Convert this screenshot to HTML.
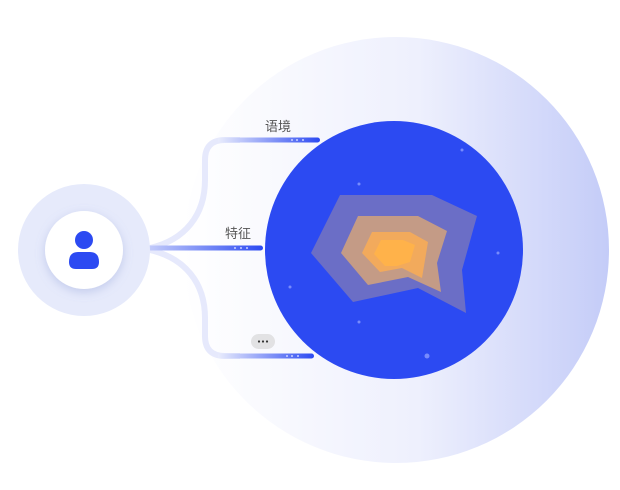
<!DOCTYPE html>
<html><head><meta charset="utf-8"><style>
body{margin:0;width:620px;height:485px;background:#fff;overflow:hidden;font-family:"Liberation Sans","Noto Sans CJK SC",sans-serif}
</style></head><body>
<svg width="620" height="485" viewBox="0 0 620 485">
<defs>
<linearGradient id="bg" x1="0" x2="1" y1="0" y2="0">
<stop offset="0" stop-color="#fff"/><stop offset="0.55" stop-color="#eef0fd"/><stop offset="1" stop-color="#c4ccf8"/></linearGradient>
<linearGradient id="bar" x1="0" x2="1"><stop offset="0" stop-color="#e9ecfc"/><stop offset="1" stop-color="#2c4af2"/></linearGradient>
<filter id="sh" x="-50%" y="-50%" width="200%" height="200%"><feDropShadow dx="0" dy="3" stdDeviation="5" flood-color="#8090d0" flood-opacity="0.35"/></filter>
</defs>
<circle cx="396" cy="250" r="213" fill="url(#bg)"/>
<g fill="none" stroke="#e6e9fc" stroke-width="6">
<path d="M150 248 C185 240 205 215 205 180 L205 160 Q205 140 225 140 L240 140"/>
<path d="M150 250 C185 258 205 283 205 318 L205 336 Q205 356 225 356 L240 356"/>
</g>
<rect x="218" y="137.5" width="102" height="5" rx="2.5" fill="url(#bar)"/>
<rect x="120" y="245.5" width="143" height="5" rx="2.5" fill="url(#bar)"/>
<rect x="218" y="353.5" width="96" height="5" rx="2.5" fill="url(#bar)"/>
<g fill="#c9d1ff">
<circle cx="292" cy="140" r="1"/><circle cx="297" cy="140" r="1"/><circle cx="303" cy="140" r="1"/>
<circle cx="235" cy="248" r="1"/><circle cx="241" cy="248" r="1"/><circle cx="247" cy="248" r="1"/>
<circle cx="287" cy="356" r="1"/><circle cx="292" cy="356" r="1"/><circle cx="298" cy="356" r="1"/>
</g>
<text x="278" y="131" font-size="13" fill="#555" text-anchor="middle">语境</text>
<text x="238" y="238" font-size="13" fill="#555" text-anchor="middle">特征</text>
<rect x="251" y="334" width="24" height="15" rx="7.5" fill="#e2e2e4"/>
<g fill="#333"><circle cx="259" cy="341.5" r="1.1"/><circle cx="263" cy="341.5" r="1.1"/><circle cx="267" cy="341.5" r="1.1"/></g>
<circle cx="394" cy="250" r="129" fill="#2c4af2"/>
<g fill="#8a9cff" opacity="0.8">
<circle cx="359" cy="184" r="1.5"/><circle cx="462" cy="150" r="1.5"/><circle cx="498" cy="253" r="1.5"/><circle cx="290" cy="287" r="1.5"/><circle cx="359" cy="322" r="1.5"/><circle cx="427" cy="356" r="2.5"/>
</g>
<polygon points="340,195 432,195 477,216 462,270 466,313 418,288 353,302 311,253" fill="#6b6ec6"/>
<polygon points="358,216 418,216 447,231 437,263 441,292 408,277 368,285 341,253" fill="#c49b86"/>
<polygon points="372,232 410,232 428,242 422,278 402,268 380,272 362,253" fill="#f2aa5c"/>
<polygon points="381,240 403,240 415,245 410,262 397,266 385,266 374,254" fill="#ffb24a"/>
<circle cx="84" cy="250" r="66" fill="#e6eafb"/>
<circle cx="84" cy="250" r="39" fill="#fff" filter="url(#sh)"/>
<circle cx="84" cy="240" r="9" fill="#2c4af2"/>
<path d="M69 262 Q69 252 78 252 L90 252 Q99 252 99 262 Q99 269 92 269 L76 269 Q69 269 69 262Z" fill="#2c4af2"/>
</svg>
</body></html>
